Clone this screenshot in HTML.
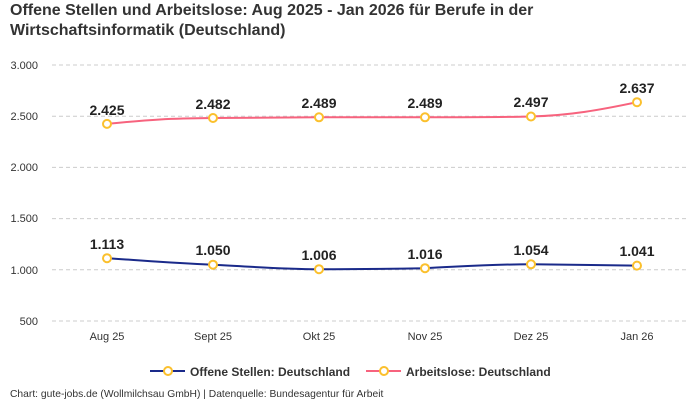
<!DOCTYPE html>
<html><head><meta charset="utf-8"><style>
body{margin:0;background:#fff;}
svg{display:block;font-family:"Liberation Sans",sans-serif;}
</style></head><body>
<svg width="700" height="400" viewBox="0 0 700 400">
<text x="10" y="15" font-size="16" font-weight="bold" fill="#333">Offene Stellen und Arbeitslose: Aug 2025 - Jan 2026 für Berufe in der</text>
<text x="10" y="35" font-size="16" font-weight="bold" fill="#333">Wirtschaftsinformatik (Deutschland)</text>
<g stroke="#ccc" stroke-dasharray="4,3" stroke-width="1">
<line x1="52" x2="688" y1="65" y2="65"/><line x1="52" x2="688" y1="116.2" y2="116.2"/>
<line x1="52" x2="688" y1="167.4" y2="167.4"/><line x1="52" x2="688" y1="218.6" y2="218.6"/>
<line x1="52" x2="688" y1="269.8" y2="269.8"/><line x1="52" x2="688" y1="321" y2="321"/>
</g>
<g font-size="11" fill="#333" text-anchor="end">
<text x="38" y="69">3.000</text><text x="38" y="120">2.500</text><text x="38" y="171">2.000</text>
<text x="38" y="222">1.500</text><text x="38" y="274">1.000</text><text x="38" y="325">500</text>
</g>
<g font-size="11" fill="#333" text-anchor="middle">
<text x="107" y="340">Aug 25</text><text x="213" y="340">Sept 25</text><text x="319" y="340">Okt 25</text>
<text x="425" y="340">Nov 25</text><text x="531" y="340">Dez 25</text><text x="637" y="340">Jan 26</text>
</g>
<path d="M107,123.9 C150,119.5 170,118.4 213,118 S290,117.3 319,117.3 L425,117.3 C470,117.3 500,117.3 531,116.5 C570,115.5 600,110 637,102.2" fill="none" stroke="#f7637e" stroke-width="2"/>
<path d="M107,258.2 C150,261 170,263 213,264.7 C260,267 280,269.2 319,269.2 C360,269.2 390,268.8 425,268.2 C470,266 490,264.3 531,264.3 C570,264.5 600,265.2 637,265.6" fill="none" stroke="#1a2a8a" stroke-width="2"/>
<g fill="#fff" stroke="#fbc02d" stroke-width="2">
<circle cx="107" cy="123.9" r="4"/><circle cx="213" cy="118" r="4"/><circle cx="319" cy="117.3" r="4"/>
<circle cx="425" cy="117.3" r="4"/><circle cx="531" cy="116.5" r="4"/><circle cx="637" cy="102.2" r="4"/>
<circle cx="107" cy="258.2" r="4"/><circle cx="213" cy="264.7" r="4"/><circle cx="319" cy="269.2" r="4"/>
<circle cx="425" cy="268.2" r="4"/><circle cx="531" cy="264.3" r="4"/><circle cx="637" cy="265.6" r="4"/>
</g>
<g font-size="14" font-weight="bold" fill="#222" text-anchor="middle">
<text x="107" y="115">2.425</text><text x="213" y="109">2.482</text><text x="319" y="108">2.489</text>
<text x="425" y="108">2.489</text><text x="531" y="107">2.497</text><text x="637" y="93">2.637</text>
<text x="107" y="249">1.113</text><text x="213" y="255">1.050</text><text x="319" y="260">1.006</text>
<text x="425" y="259">1.016</text><text x="531" y="255">1.054</text><text x="637" y="256">1.041</text>
</g>
<line x1="150" x2="185" y1="371" y2="371" stroke="#1a2a8a" stroke-width="2"/>
<circle cx="168" cy="371" r="4" fill="#fff" stroke="#fbc02d" stroke-width="2"/>
<text x="190" y="376" font-size="12" font-weight="bold" fill="#333">Offene Stellen: Deutschland</text>
<line x1="366" x2="401" y1="371" y2="371" stroke="#f7637e" stroke-width="2"/>
<circle cx="384" cy="371" r="4" fill="#fff" stroke="#fbc02d" stroke-width="2"/>
<text x="406" y="376" font-size="12" font-weight="bold" fill="#333">Arbeitslose: Deutschland</text>
<text x="10" y="397" font-size="10.3" fill="#333">Chart: gute-jobs.de (Wollmilchsau GmbH) | Datenquelle: Bundesagentur für Arbeit</text>
</svg>
</body></html>
